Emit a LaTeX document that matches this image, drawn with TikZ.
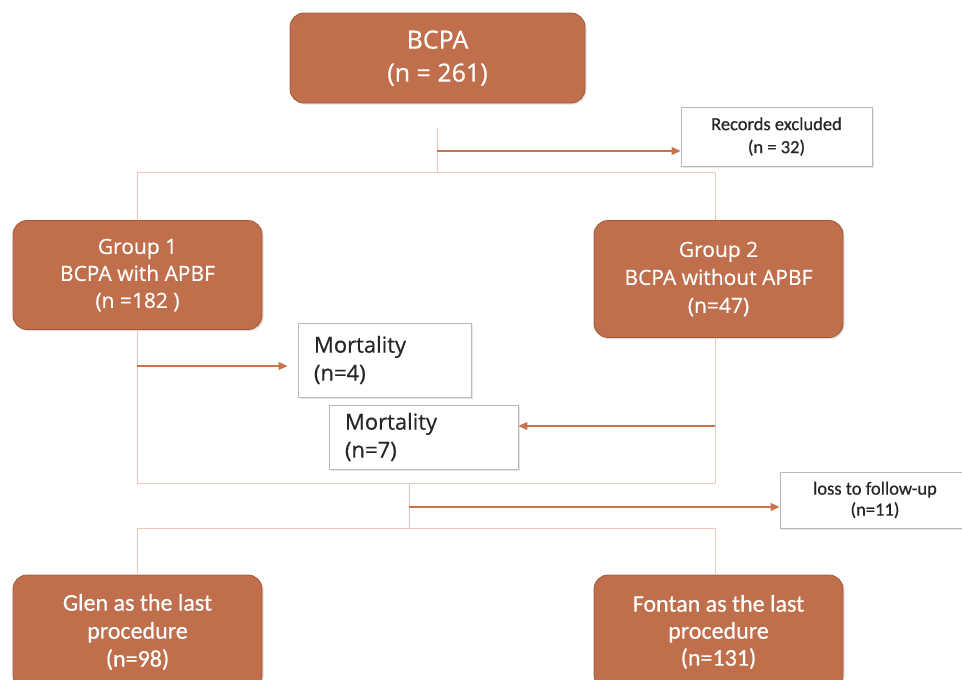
\documentclass[tikz,border=0pt]{standalone}
\usepackage{fontspec}
\setmainfont{Carlito}[FakeBold=0.6]
\newfontfamily\groupfont{Open Sans}[FakeBold=0.5]
\usepackage{tikz}
\usetikzlibrary{arrows.meta,shadows}

\definecolor{boxbrown}{HTML}{BF6F4C}
\definecolor{boxedge}{HTML}{A35A3B}
\definecolor{flowpink}{HTML}{F2C6B6}
\definecolor{flowarrow}{HTML}{C8734E}
\definecolor{notetext}{HTML}{262626}

\begin{document}
\begin{tikzpicture}[x=1pt, y=-1pt,
  groupbox/.style={draw=boxedge, fill=boxbrown, rounded corners=14pt,
    text=white, align=center, inner sep=0pt, line width=0.8pt,
    drop shadow={opacity=0.25, shadow xshift=1.5pt, shadow yshift=-1.5pt}},
  notebox/.style={draw=gray!55, fill=white, inner sep=0pt, line width=0.9pt,
    text=notetext,
    drop shadow={opacity=0.2, shadow xshift=1.5pt, shadow yshift=-1.5pt}},
  flow/.style={draw=flowpink, line width=1pt},
  outflow/.style={draw=flowarrow, line width=1.2pt,
    -{Triangle[length=9pt,width=8pt]}}]

\useasboundingbox (0,0) rectangle (962,680);

% flow of BCPA patients down to the last procedure
% brown boxes for groups, white boxes for the ones that drop out

%% brown boxes
\node[groupbox, minimum width=295pt, minimum height=90pt,
  font=\groupfont\fontsize{25}{33}\selectfont] (bcpa) at (437.5,58)
  {BCPA\\(n = 261)};
\node[groupbox, minimum width=249pt, minimum height=109pt,
  font=\groupfont\fontsize{21}{27}\selectfont] (groupone) at (137.5,275)
  {Group 1\\BCPA with APBF\\(n =182 )};
\node[groupbox, minimum width=249pt, minimum height=117pt,
  font=\groupfont\fontsize{21}{28}\selectfont] (grouptwo) at (718.5,279)
  {Group 2\\BCPA without APBF\\(n=47)};
\node[groupbox, minimum width=249pt, minimum height=114pt,
  font=\fontsize{24}{28}\selectfont] (glen) at (137.5,632)
  {Glen as the last\\procedure\\(n=98)};
\node[groupbox, minimum width=249pt, minimum height=114pt,
  font=\fontsize{24}{27}\selectfont] (fontan) at (718.5,632)
  {Fontan as the last\\procedure\\(n=131)};

%% white boxes
\node[notebox, minimum width=191pt, minimum height=59pt, align=center,
  font=\fontsize{18.5}{23}\selectfont] (excluded) at (776.5,136.5)
  {Records excluded\\(n = 32)};
\node[notebox, minimum width=190pt, minimum height=56pt, align=center,
  font=\fontsize{18.5}{21}\selectfont] (loss) at (875,500)
  {loss to follow-up\\(n=11)};
\node[notebox, text width=141pt, inner xsep=16pt, minimum height=74pt,
  align=left, font=\groupfont\fontsize{22}{28}\selectfont] (mortone) at (384.5,360)
  {Mortality\\(n=4)};
\node[notebox, text width=157pt, inner xsep=16pt, minimum height=64pt,
  align=left, font=\groupfont\fontsize{22}{28}\selectfont] (morttwo) at (423.5,437)
  {Mortality\\(n=7)};

%% junctions
\coordinate (splittop) at (437,128);
\coordinate (splitleft) at (137,172);
\coordinate (splitright) at (715,172);
\coordinate (joinleft) at (137,483);
\coordinate (joinright) at (715,483);
\coordinate (dropdown) at (409,528);
\coordinate (lastleft) at (137,528);
\coordinate (lastright) at (715,528);

%% thin pink lines
\draw[flow] (splittop) -- (437,172);
\draw[flow] (groupone.north -| splitleft) -- (splitleft) -- (splitright)
  -- (grouptwo.north -| splitright);
\draw[flow] (groupone.south -| joinleft) -- (joinleft) -- (joinright)
  -- (grouptwo.south -| joinright);
\draw[flow] (409,483) -- (dropdown);
\draw[flow] (glen.north -| lastleft) -- (lastleft) -- (lastright)
  -- (fontan.north -| lastright);

%% arrows to the white boxes
\draw[outflow] (437,151) -- (excluded.west |- 437,151);
\draw[outflow, shorten >=10pt] (137,366) -- (mortone.west |- 137,366);
\draw[outflow] (715,426) -- (morttwo.east |- 715,426);
\draw[outflow] (409,507) -- (loss.west |- 409,507);

\end{tikzpicture}
\end{document}
